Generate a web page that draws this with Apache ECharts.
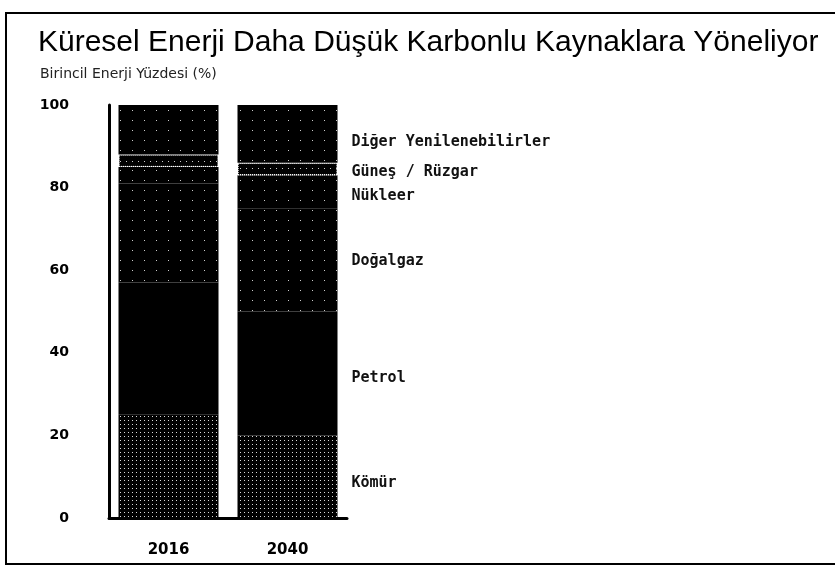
<!DOCTYPE html>
<html><head><meta charset="utf-8">
<script src="https://cdn.jsdelivr.net/npm/echarts@6/dist/echarts.min.js"></script>
<style>html,body{margin:0;padding:0;background:#fff}#c{width:835px;height:578px}</style>
</head><body><div id="c"></div>
<script>
const categories = ['2016', '2040'];
const seriesNames = ['Kömür', 'Petrol', 'Doğalgaz', 'Nükleer', 'Güneş / Rüzgar', 'Diğer Yenilenebilirler'];
const komur = [25, 20];
const petrol = [32, 30];
const dogalgaz = [24, 25];
const nukleer = [4, 8];
const gunesRuzgar = [3, 3];
const diger = [12, 14];
const yTicks = [0, 20, 40, 60, 80, 100];

const values = [komur, petrol, dogalgaz, nukleer, gunesRuzgar, diger];
const labelOffsets = [[0, 6], [0, 5], [0, 1], [0, 4], [0, 3], [0, 8]];
const sparse = {symbol: 'rect', symbolSize: 1, color: 'rgba(255,255,255,0.8)', dashArrayX: [1, 11], dashArrayY: [1, 9]};
const decals = [
  {symbol: 'rect', symbolSize: 1, color: 'rgba(255,255,255,0.85)', dashArrayX: [1, 3], dashArrayY: [1, 3]},
  null, sparse, sparse,
  {symbol: 'rect', symbolSize: 1, color: 'rgba(255,255,255,0.8)', dashArrayX: [1, 5], dashArrayY: [1, 6]},
  sparse
];

const chart = echarts.init(document.getElementById('c'));
const series = seriesNames.map((name, i) => {
  const style = {color: '#000'};
  if (decals[i]) style.decal = decals[i];
  if (i === 4) { style.borderColor = '#fff'; style.borderWidth = 1; style.borderType = 'dotted'; }
  return {
    name: name,
    type: 'bar',
    stack: 'total',
    barWidth: 100,
    itemStyle: style,
    data: values[i].map((v, j) => ({
      value: v,
      label: {
        show: j === categories.length - 1,
        position: 'right',
        distance: 14,
        offset: labelOffsets[i],
        formatter: name,
        color: '#111',
        fontFamily: 'DejaVu Sans Mono',
        fontWeight: 'bold',
        fontSize: 15
      }
    }))
  };
});

chart.setOption({
  animation: false,
  backgroundColor: '#fff',
  title: [
    {text: 'Küresel Enerji Daha Düşük Karbonlu Kaynaklara Yöneliyor', left: 33, top: 23,
     textStyle: {fontFamily: 'Liberation Sans', fontWeight: 'normal', fontSize: 30, color: '#000'}},
    {text: 'Birincil Enerji Yüzdesi (%)', left: 35, top: 62,
     textStyle: {fontFamily: 'DejaVu Sans', fontWeight: 'normal', fontSize: 14, color: '#222'}}
  ],
  graphic: [
    {type: 'rect', shape: {x: 6, y: 13, width: 840, height: 551}, style: {fill: 'none', stroke: '#000', lineWidth: 2}, z: -1}
  ],
  grid: {left: 109, top: 105, width: 238, height: 413},
  xAxis: {
    type: 'category', data: categories,
    axisLine: {show: true, lineStyle: {color: '#000', width: 3}},
    axisTick: {show: false},
    axisLabel: {color: '#000', fontFamily: 'DejaVu Sans', fontWeight: 'bold', fontSize: 15, margin: 25}
  },
  yAxis: {
    type: 'value', min: 0, max: 100, interval: 20,
    axisLine: {show: true, lineStyle: {color: '#000', width: 3}},
    axisTick: {show: false},
    splitLine: {show: false},
    axisLabel: {color: '#000', fontFamily: 'DejaVu Sans', fontWeight: 'bold', fontSize: 14, margin: 40,
      formatter: v => yTicks.includes(v) ? String(v) : ''}
  },
  series: series
});
</script></body></html>
